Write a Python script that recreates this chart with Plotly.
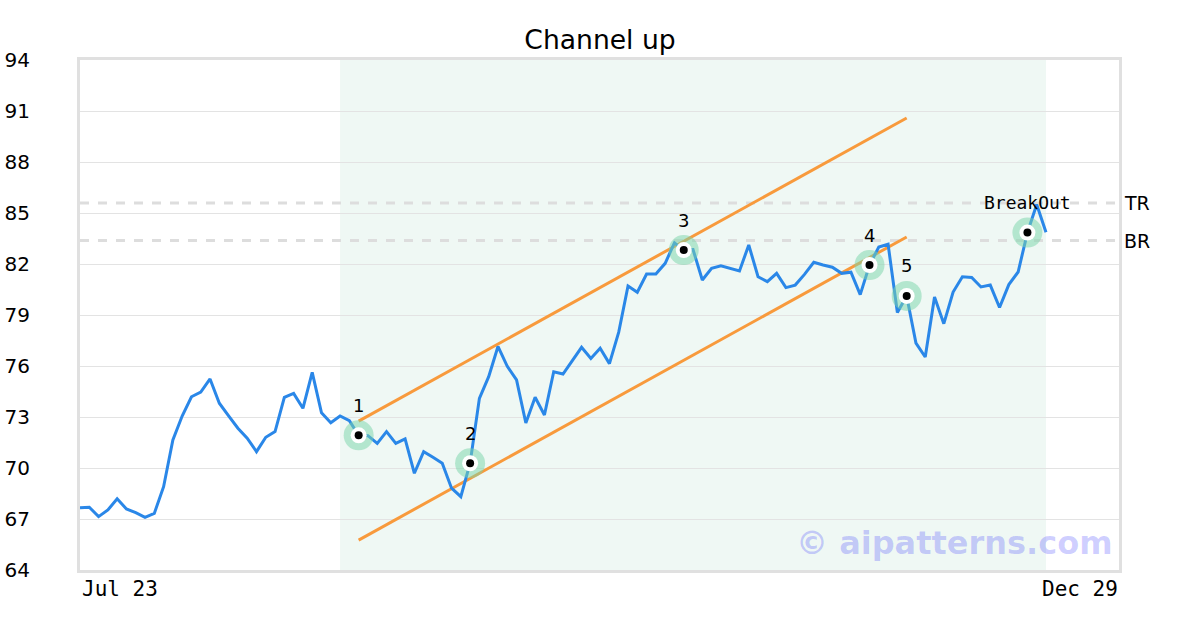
import plotly.graph_objects as go

# ---- data ----
prices = [67.66, 67.69, 67.14, 67.53, 68.19, 67.59, 67.37, 67.10, 67.33, 68.90,
          71.65, 73.06, 74.19, 74.47, 75.24, 73.81, 73.06, 72.34, 71.75, 70.96,
          71.81, 72.14, 74.16, 74.39, 73.51, 75.63, 73.25, 72.66, 73.06, 72.78,
          71.92, 71.90, 71.45, 72.14, 71.45, 71.71, 69.69, 70.96, 70.63, 70.28,
          68.81, 68.31, 70.28, 74.10, 75.37, 77.15, 75.98, 75.18, 72.65, 74.16,
          73.12, 75.66, 75.53, 76.28, 77.10, 76.44, 77.04, 76.14, 77.99, 80.71,
          80.34, 81.41, 81.41, 82.04, 83.25, 82.82, 82.85, 81.06, 81.75, 81.90,
          81.75, 81.59, 83.12, 81.25, 80.96, 81.45, 80.61, 80.76, 81.39, 82.10,
          81.94, 81.81, 81.45, 81.52, 80.20, 81.94, 83.00, 83.16, 79.15, 80.12,
          77.35, 76.53, 80.06, 78.49, 80.35, 81.25, 81.21, 80.65, 80.76, 79.44,
          80.79, 81.53, 83.85, 85.50, 83.87]
x_idx = list(range(len(prices)))

pivot_idx = [30, 42, 65, 85, 89, 102]
pivot_labels = ["1", "2", "3", "4", "5", "BreakOut"]

upper_x = [30, 89]
upper_y = [72.76, 90.59]
lower_x = [30, 89]
lower_y = [65.76, 83.59]

level_names = ["TR", "BR"]
level_values = [85.59, 83.38]

pattern_start, pattern_end = 28, 104
x_range = [0, 111.86]
x_tick_text = ["Jul 23", "Dec 29"]
y_ticks = list(range(64, 95, 3))

# ---- figure ----
fig = go.Figure()

fig.add_shape(type="rect", xref="x", yref="paper", x0=pattern_start, x1=pattern_end,
              y0=0, y1=1, fillcolor="#eff8f4", line_width=0, layer="below")

for v in level_values:
    fig.add_shape(type="line", xref="paper", yref="y", x0=0, x1=1, y0=v, y1=v,
                  line=dict(color="#dddddd", width=3, dash="dash"), layer="below")

fig.add_trace(go.Scatter(x=upper_x, y=upper_y, mode="lines",
                         line=dict(color="#f89a3c", width=3), hoverinfo="skip"))
fig.add_trace(go.Scatter(x=lower_x, y=lower_y, mode="lines",
                         line=dict(color="#f89a3c", width=3), hoverinfo="skip"))

fig.add_trace(go.Scatter(x=x_idx, y=prices, mode="lines",
                         line=dict(color="#2a87e8", width=3)))

px = [x_idx[i] for i in pivot_idx]
py = [prices[i] for i in pivot_idx]
fig.add_trace(go.Scatter(x=px, y=py, mode="markers",
                         marker=dict(size=30, color="rgba(125,212,170,0.52)", line_width=0)))
fig.add_trace(go.Scatter(x=px, y=py, mode="markers",
                         marker=dict(size=16, color="white", line_width=0)))
fig.add_trace(go.Scatter(x=px, y=py, mode="markers",
                         marker=dict(size=8, color="black", line_width=0)))

for xv, yv, lab in zip(px, py, pivot_labels):
    mono = lab == "BreakOut"
    fig.add_annotation(x=xv, y=yv, text=lab, showarrow=False, yshift=30,
                       font=dict(family="DejaVu Sans Mono" if mono else "DejaVu Sans",
                                 size=18, color="black"))

for name, v in zip(level_names, level_values):
    fig.add_annotation(xref="paper", x=1, y=v, text=name, showarrow=False,
                       xanchor="left", xshift=3, font=dict(family="DejaVu Sans", size=19, color="black"))

fig.add_annotation(xref="paper", yref="paper", x=0, y=0, text=x_tick_text[0], showarrow=False,
                   xanchor="left", yanchor="top", yshift=-5,
                   font=dict(family="DejaVu Sans Mono", size=21, color="black"))
fig.add_annotation(xref="paper", yref="paper", x=1, y=0, text=x_tick_text[1], showarrow=False,
                   xanchor="right", yanchor="top", yshift=-5, xshift=1,
                   font=dict(family="DejaVu Sans Mono", size=21, color="black"))

fig.add_annotation(xref="paper", yref="paper", x=0.996, y=0.012, text="<b>© aipatterns.com</b>",
                   showarrow=False, xanchor="right", yanchor="bottom",
                   font=dict(family="DejaVu Sans", size=32, color="rgba(0,0,255,0.2)"))

fig.update_layout(
    width=1200, height=630,
    margin=dict(l=80, r=81, t=60, b=60, autoexpand=False),
    paper_bgcolor="white", plot_bgcolor="white",
    showlegend=False,
    title=dict(text="Channel up", x=0.5, xanchor="center",
               y=1 - 40 / 630, yanchor="middle",
               font=dict(family="DejaVu Sans", size=26.6, color="black")),
    font=dict(family="DejaVu Sans", color="black"),
)
fig.update_xaxes(range=x_range, showgrid=False, showticklabels=False, zeroline=False, automargin=False,
                 showline=True, mirror=True, linecolor="#e0e0e0", linewidth=3, ticks="")
fig.update_yaxes(range=[64, 94], tickvals=y_ticks, showgrid=True, gridcolor="#e3e3e3", gridwidth=1,
                 zeroline=False, showline=True, mirror=True, linecolor="#e0e0e0", linewidth=3,
                 automargin=False, ticks="", ticklabelstandoff=43,
                 tickfont=dict(family="DejaVu Sans", size=20, color="black"))

# remove the browser's default 8px body margin so the figure sits at the page origin
fig.write_html("out.html", config={"displayModeBar": False},
               post_script="document.body.style.margin='0';")
